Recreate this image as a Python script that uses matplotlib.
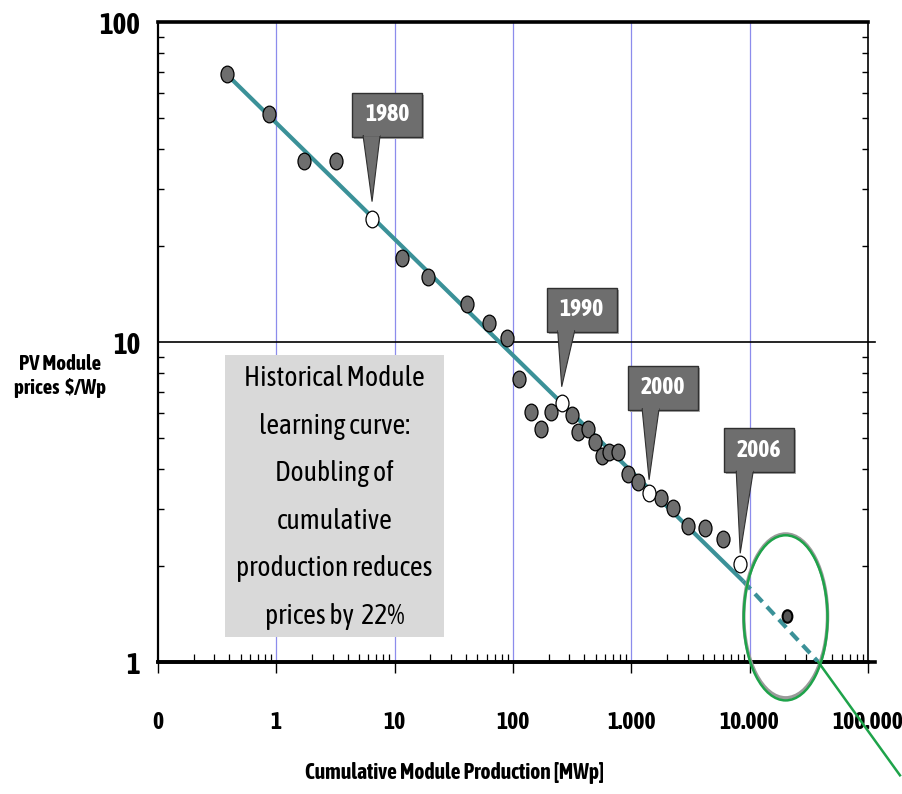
import numpy as np
import matplotlib
matplotlib.use("Agg")
import matplotlib.pyplot as plt
import matplotlib.transforms as mtransforms
import matplotlib.patheffects as pe
from matplotlib import font_manager
from matplotlib.patches import Ellipse, Rectangle, Polygon
from matplotlib.path import Path
from matplotlib.ticker import NullFormatter, LogLocator

# pick a narrow sans font if one is installed, preferring one with a bold face
fonts = font_manager.fontManager.ttflist
narrow = [f for f in fonts if 'Narrow' in f.name or 'Condensed' in f.name]
bold_narrow = [f.name for f in narrow if isinstance(f.weight, int) and f.weight >= 600
               or f.weight == 'bold']
has_bold = True
if bold_narrow:
    family = bold_narrow[0]
elif narrow:
    family = narrow[0].name
    has_bold = False
else:
    family = 'Liberation Sans'
plt.rcParams['font.family'] = [family, 'DejaVu Sans']

# fake bold with a thin outline if the narrow family has no bold face
fake_bold = [] if has_bold else [pe.withStroke(linewidth=0.9, foreground='black')]
fake_bold_w = [] if has_bold else [pe.withStroke(linewidth=0.7, foreground='white')]

# historical module prices
hist_x = [0.38, 0.86, 1.71, 3.18, 11.6, 19.1, 40.6, 63.2, 88.7, 113, 141, 173,
          210, 314, 357, 429, 494, 563, 653, 778, 946, 1148, 1786, 2270, 3040,
          4210, 5930]
hist_y = [68.8, 51.5, 36.8, 36.8, 18.3, 16.0, 13.1, 11.5, 10.3, 7.66, 6.03, 5.34,
          6.03, 5.91, 5.24, 5.34, 4.88, 4.41, 4.54, 4.54, 3.86, 3.64, 3.25, 3.03,
          2.66, 2.62, 2.42]

# milestone years (white dots)
years = ["1980", "1990", "2000", "2006"]
year_x = [6.44, 258, 1413, 8320]
year_y = [24.3, 6.46, 3.38, 2.02]

# outlook point inside the circle
outlook_x = [20600]
outlook_y = [1.39]

# learning curve fit and its extension
trend_x = [0.41, 8800]
trend_y = [66.8, 1.79]
proj_x = [8800, 38000]
proj_y = [1.79, 1.0]

xticks = [0.1, 1, 10, 100, 1000, 10000, 100000]
xtick_labels = ["0", "1", "10", "100", "1.000", "10.000", "100.000"]
yticks = [1, 10, 100]
ytick_labels = ["1", "10", "100"]

note = ("Historical Module\nlearning curve:\nDoubling of\ncumulative\n"
        "production reduces\nprices by  22%")

teal = '#3b9198'
W, H = 902, 794

fig = plt.figure(figsize=(W / 100, H / 100), dpi=100)
ax = fig.add_axes([158 / W, 132 / H, 710 / W, 640 / H])
ax.set_xscale('log')
ax.set_yscale('log')
ax.set_xlim(0.1, 1e5)
ax.set_ylim(1, 100)

# vertical grid lines
for v in xticks[1:-1]:
    ax.axvline(v, color='#8c8cec', lw=0.9, zorder=0)
ax.axhline(10, xmin=0, xmax=1.01, color='black', lw=1.2, clip_on=False, zorder=1)
ax.axhline(1, xmin=0, xmax=1.01, color='black', lw=2.6, clip_on=False, zorder=1)

# note box
ax.add_patch(Rectangle((0.0944, 0.039), 0.3085, 0.4406, transform=ax.transAxes,
                       facecolor='#d9d9d9', edgecolor='none', zorder=1))
ax.text(0.2486, 0.257, note, transform=ax.transAxes, ha='center', va='center',
        fontsize=20, linespacing=1.98, zorder=2)

# trend line
ax.plot(trend_x, trend_y, color=teal, lw=3, solid_capstyle='butt', zorder=3)
ax.plot(proj_x, proj_y, color=teal, lw=3, ls=(0, (2.6, 1.6)), zorder=3)

oval = Path.unit_circle().transformed(mtransforms.Affine2D().scale(0.78, 1.0))
ax.plot(hist_x, hist_y, ls='none', marker=oval, ms=12, mfc='#6e6e6e',
        mec='black', mew=0.9, zorder=4)
ax.plot(year_x, year_y, ls='none', marker=oval, ms=12, mfc='white',
        mec='black', mew=0.9, zorder=4)
ax.plot(outlook_x, outlook_y, ls='none', marker=oval, ms=9, mfc='#555555',
        mec='black', mew=1.5, zorder=4)

# circle around the outlook and the green line
ax.add_patch(Ellipse((0.884, 0.072), 0.118, 0.256, transform=ax.transAxes,
                     fill=False, edgecolor='#9a9a9a', lw=2.5, clip_on=False, zorder=5))
ax.add_patch(Ellipse((0.884, 0.069), 0.118, 0.258, transform=ax.transAxes,
                     fill=False, edgecolor='#1ea34a', lw=1.8, clip_on=False, zorder=6))
ax.plot([0.930, 1.045], [0.0, -0.177], transform=ax.transAxes, color='#1ea34a',
        lw=1.8, clip_on=False, zorder=6)

# callouts: box offset (px) from the dot, base of the pointer, pointer tip height
box_dx = [-20, -15, -21, -16]
box_dy = [82, 71, 83, 92]
base_dx = [-9, -4, -7, -4]
tip_dy = [17, 16, 13, 11]
bw, bh = 70, 44
for lab, x, y, dx, dy, b, t in zip(years, year_x, year_y, box_dx, box_dy, base_dx, tip_dy):
    tr = fig.dpi_scale_trans + mtransforms.ScaledTranslation(x, y, ax.transData)
    ax.add_patch(Rectangle(((dx + 2) / 100, (dy - 2) / 100), bw / 100, bh / 100,
                           transform=tr, facecolor='#b0b0b0', edgecolor='none',
                           zorder=7, clip_on=False))
    ax.add_patch(Rectangle((dx / 100, dy / 100), bw / 100, bh / 100, transform=tr,
                           facecolor='#6e6e6e', edgecolor='#303030', lw=1,
                           zorder=8, clip_on=False))
    tri = [(b / 100, (dy + 1) / 100), ((b + 17) / 100, (dy + 1) / 100), (0, t / 100)]
    ax.add_patch(Polygon(tri, closed=True, transform=tr, facecolor='#6e6e6e',
                         edgecolor='#303030', lw=0.8, zorder=8, clip_on=False))
    ax.add_patch(Rectangle((b / 100 + 0.005, (dy + 0.2) / 100), 0.16, 0.018,
                           transform=tr, facecolor='#6e6e6e', edgecolor='none',
                           zorder=9, clip_on=False))
    ax.text((dx + bw / 2) / 100, (dy + bh / 2) / 100, lab, transform=tr, ha='center',
            va='center', color='white', fontsize=17, fontweight='bold', zorder=10,
            path_effects=fake_bold_w)

# axes and ticks
ax.set_xticks(xticks)
ax.set_xticklabels(xtick_labels, fontsize=17, fontweight='bold')
ax.xaxis.set_minor_locator(LogLocator(base=10, subs=np.arange(2, 10), numticks=20))
ax.xaxis.set_minor_formatter(NullFormatter())
ax.set_yticks(yticks)
ax.set_yticklabels(ytick_labels, fontsize=21, fontweight='bold')
ax.yaxis.set_minor_formatter(NullFormatter())
for lbl in ax.get_xticklabels() + ax.get_yticklabels():
    lbl.set_path_effects(fake_bold)
ax.tick_params(axis='x', which='major', direction='out', length=8, width=1, pad=27)
ax.tick_params(axis='x', which='minor', direction='in', length=5.5, width=0.9)
ax.tick_params(axis='y', which='major', length=0, pad=13)
ax.tick_params(axis='y', which='minor', direction='in', length=4, width=1,
               left=True, right=True)

ax.spines['top'].set_linewidth(2.6)
ax.spines['bottom'].set_linewidth(2.6)
ax.spines['left'].set_linewidth(1.6)
ax.spines['right'].set_linewidth(1.2)

fig.text(60 / W, 1 - 376 / H, "PV Module\nprices  $/Wp", ha='center', va='center',
         fontsize=15, fontweight='bold', linespacing=1.25, path_effects=fake_bold)
fig.text(455 / W, 1 - 773 / H, "Cumulative Module Production [MWp]", ha='center',
         va='center', fontsize=15.5, fontweight='bold', path_effects=fake_bold)

fig.savefig("out.png", dpi=100)
